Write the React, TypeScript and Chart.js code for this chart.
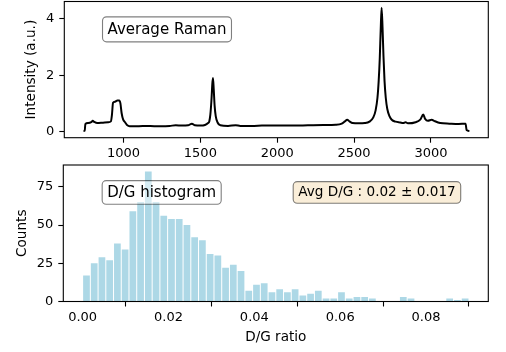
import React, { useEffect, useRef } from 'react';
import { Chart, registerables } from 'chart.js';

Chart.register(...registerables);

// ---------- Data: average Raman spectrum ----------
const ramanShift = [
  740, 748, 752, 770, 790, 800, 810, 830, 860, 900, 918, 925, 932, 945, 960, 972, 980, 988, 998, 1010,
  1025, 1040, 1100, 1150, 1200, 1250, 1300, 1340, 1380, 1420, 1445, 1465, 1500, 1530, 1550, 1558, 1565,
  1572, 1578, 1582, 1587, 1593, 1600, 1612, 1630, 1680, 1730, 1760, 1850, 1900, 2000, 2100, 2200, 2300,
  2380, 2420, 2440, 2455, 2470, 2490, 2530, 2570, 2600, 2625, 2640, 2652, 2660, 2667, 2673, 2679, 2685,
  2691, 2698, 2706, 2716, 2730, 2745, 2770, 2800, 2820, 2835, 2850, 2900, 2930, 2950, 2962, 2980, 3005,
  3020, 3060, 3120, 3180, 3225, 3232, 3250,
];
const ramanIntensity = [
  0.02, 0.03, 0.27, 0.3, 0.33, 0.38, 0.34, 0.3, 0.31, 0.33, 0.36, 0.6, 1.02, 1.06, 1.1, 1.1, 1.0, 0.65, 0.42, 0.33,
  0.22, 0.19, 0.19, 0.2, 0.19, 0.19, 0.2, 0.22, 0.21, 0.22, 0.28, 0.22, 0.21, 0.23, 0.3, 0.36, 0.6,
  1.1, 1.7, 1.9, 1.5, 0.9, 0.55, 0.32, 0.22, 0.2, 0.22, 0.2, 0.2, 0.21, 0.21, 0.21, 0.22, 0.23,
  0.24, 0.28, 0.36, 0.42, 0.36, 0.3, 0.29, 0.3, 0.35, 0.5, 0.75, 1.2, 1.8, 2.6, 3.6, 4.4, 3.7,
  2.7, 1.8, 1.2, 0.8, 0.55, 0.42, 0.35, 0.32, 0.3, 0.33, 0.29, 0.33, 0.42, 0.6, 0.45, 0.38, 0.42,
  0.38, 0.3, 0.28, 0.27, 0.28, 0.05, 0.02,
];
const ramanXTicks = [1000, 1500, 2000, 2500, 3000];
const ramanYTicks = [0, 2, 4];

// ---------- Data: D/G ratio histogram ----------
const dgCounts = [
  17, 25, 29, 27, 38, 34, 59, 65, 85, 65, 56, 54, 54, 50, 42, 40, 31, 30, 22, 24,
  20, 7, 11, 12, 6, 8, 6, 8, 4, 5, 7, 2, 2, 6, 2, 3, 3, 2, 0, 0,
  0, 3, 2, 0, 0, 0, 0, 2, 1, 2,
];
const dgRangeStart = 0;
const dgRangeEnd = 0.09;
const dgXTicks = [0, 0.02, 0.04, 0.06, 0.08];
const dgYTicks = [0, 25, 50, 75];

const ramanTitle = 'Average Raman';
const histTitle = 'D/G histogram';
const avgText = 'Avg D/G : 0.02 \u00b1 0.017';

const FONT = '"DejaVu Sans", "Liberation Sans", sans-serif';

type BoxSpec = { text: string; fx: number; fy: number; size: number; h: number; fill: string };

function makeBoxPlugin(id: string, boxes: BoxSpec[]) {
  return {
    id,
    afterDatasetsDraw(chart: any) {
      const { ctx, chartArea: a } = chart;
      boxes.forEach((b) => {
        ctx.save();
        ctx.font = `${b.size}px ${FONT}`;
        const w = ctx.measureText(b.text).width + 10;
        const cx = a.left + b.fx * (a.right - a.left);
        const cy = a.top + b.fy * (a.bottom - a.top);
        ctx.beginPath();
        (ctx as any).roundRect(cx - w / 2, cy - b.h / 2, w, b.h, 4);
        ctx.fillStyle = b.fill;
        ctx.fill();
        ctx.strokeStyle = 'rgba(0,0,0,0.5)';
        ctx.lineWidth = 1.1;
        ctx.stroke();
        ctx.fillStyle = '#000';
        ctx.textAlign = 'center';
        ctx.textBaseline = 'middle';
        ctx.fillText(b.text, cx, cy + 0.5);
        ctx.restore();
      });
    },
  };
}

const framePlugin = {
  id: 'frame',
  afterDraw(chart: any) {
    const { ctx, chartArea: a } = chart;
    ctx.save();
    ctx.strokeStyle = '#000';
    ctx.lineWidth = 1.1;
    ctx.strokeRect(a.left, a.top, a.right - a.left, a.bottom - a.top);
    ctx.restore();
  },
};

function fixedTicks(values: number[]) {
  return (scale: any) => {
    scale.ticks = values.map((v) => ({ value: v }));
  };
}

const tickFont = { family: FONT, size: 13 };
const titleFont = { family: FONT, size: 13.6 };

function xAxis(min: number, max: number, ticks: number[], height: number, fmt: (v: number) => string, title?: any) {
  return {
    type: 'linear',
    position: 'bottom',
    min,
    max,
    offset: false,
    afterBuildTicks: fixedTicks(ticks),
    afterFit: (s: any) => {
      s.height = height;
      s.paddingLeft = 0;
      s.paddingRight = 0;
      s.paddingTop = 0;
      s.paddingBottom = 0;
    },
    ticks: { font: tickFont, color: '#000', padding: 3, maxRotation: 0, autoSkip: false, callback: (v: any) => fmt(Number(v)) },
    grid: { display: true, drawOnChartArea: false, drawTicks: true, tickLength: 5, tickWidth: 1.1, tickColor: '#000', color: '#000' },
    border: { display: false },
    title: title || { display: false },
  };
}

function yAxis(min: number, max: number, ticks: number[], width: number, fmt: (v: number) => string, title: any) {
  return {
    type: 'linear',
    position: 'left',
    min,
    max,
    afterBuildTicks: fixedTicks(ticks),
    afterFit: (s: any) => {
      s.width = width;
      s.paddingLeft = 0;
      s.paddingRight = 0;
      s.paddingTop = 0;
      s.paddingBottom = 0;
    },
    ticks: { font: tickFont, color: '#000', padding: 5, callback: (v: any) => fmt(Number(v)) },
    grid: { display: true, drawOnChartArea: false, drawTicks: true, tickLength: 5, tickWidth: 1.1, tickColor: '#000', color: '#000' },
    border: { display: false },
    title,
  };
}

export default function App() {
  const topRef = useRef<HTMLCanvasElement | null>(null);
  const botRef = useRef<HTMLCanvasElement | null>(null);

  useEffect(() => {
    const ramanPoints = ramanShift.map((x, i) => ({ x, y: ramanIntensity[i] }));
    const top = new Chart(topRef.current as HTMLCanvasElement, {
      type: 'line',
      data: {
        datasets: [
          {
            data: ramanPoints,
            borderColor: '#000',
            borderWidth: 2,
            pointRadius: 0,
            tension: 0.3,
            cubicInterpolationMode: 'monotone',
            fill: false,
          } as any,
        ],
      },
      options: {
        responsive: false,
        maintainAspectRatio: false,
        devicePixelRatio: 1,
        animation: false,
        layout: { padding: { left: 0, right: 17.7, top: 1.5, bottom: 0 } },
        plugins: { legend: { display: false }, tooltip: { enabled: false } },
        scales: {
          x: xAxis(615, 3373, ramanXTicks, 165 - 137.7, (v) => String(v)) as any,
          y: yAxis(-0.22, 4.62, ramanYTicks, 64.3, (v) => String(v), {
            display: true,
            text: 'Intensity (a.u.)',
            color: '#000',
            font: titleFont,
            padding: { top: 23.5, bottom: 0 },
          }) as any,
        },
      },
      plugins: [
        makeBoxPlugin('boxTop', [
          { text: ramanTitle, fx: 0.2422, fy: 0.2044, size: 15, h: 25, fill: 'rgba(255,255,255,0.5)' },
        ]),
        framePlugin,
      ],
    });

    const n = dgCounts.length;
    const bw = (dgRangeEnd - dgRangeStart) / n;
    const histPoints = dgCounts.map((c, i) => ({ x: dgRangeStart + (i + 0.5) * bw, y: c }));
    const bot = new Chart(botRef.current as HTMLCanvasElement, {
      type: 'bar',
      data: {
        datasets: [
          {
            data: histPoints,
            backgroundColor: '#ADD8E6',
            borderWidth: 0,
            barPercentage: 0.87,
            categoryPercentage: 1,
          } as any,
        ],
      },
      options: {
        responsive: false,
        maintainAspectRatio: false,
        devicePixelRatio: 1,
        animation: false,
        layout: { padding: { left: 0, right: 17.7, top: 13, bottom: 0 } },
        plugins: { legend: { display: false }, tooltip: { enabled: false } },
        scales: {
          x: xAxis(-0.0045, 0.0945, dgXTicks, 352 - 301.5, (v) => v.toFixed(2), {
            display: true,
            text: 'D/G ratio',
            color: '#000',
            font: titleFont,
            padding: { top: 0, bottom: 6.1 },
          }) as any,
          y: yAxis(0, 89.25, dgYTicks, 63.3, (v) => String(v), {
            display: true,
            text: 'Counts',
            color: '#000',
            font: titleFont,
            padding: { top: 14.3, bottom: 0 },
          }) as any,
        },
      },
      plugins: [
        makeBoxPlugin('boxBot', [
          { text: histTitle, fx: 0.2315, fy: 0.201, size: 15, h: 23.6, fill: 'rgba(255,255,255,0.5)' },
          { text: avgText, fx: 0.738, fy: 0.201, size: 13.6, h: 21.6, fill: 'rgba(245,222,179,0.5)' },
        ]),
        framePlugin,
      ],
    });

    return () => {
      top.destroy();
      bot.destroy();
    };
  }, []);

  return (
    <div style={{ position: 'absolute', left: 0, top: 0, width: 506, height: 352, background: '#fff' }}>
      <canvas
        ref={topRef}
        width={506}
        height={165}
        style={{ position: 'absolute', left: 0, top: 0, width: 506, height: 165 }}
      />
      <canvas
        ref={botRef}
        width={506}
        height={200}
        style={{ position: 'absolute', left: 0, top: 152, width: 506, height: 200 }}
      />
    </div>
  );
}
